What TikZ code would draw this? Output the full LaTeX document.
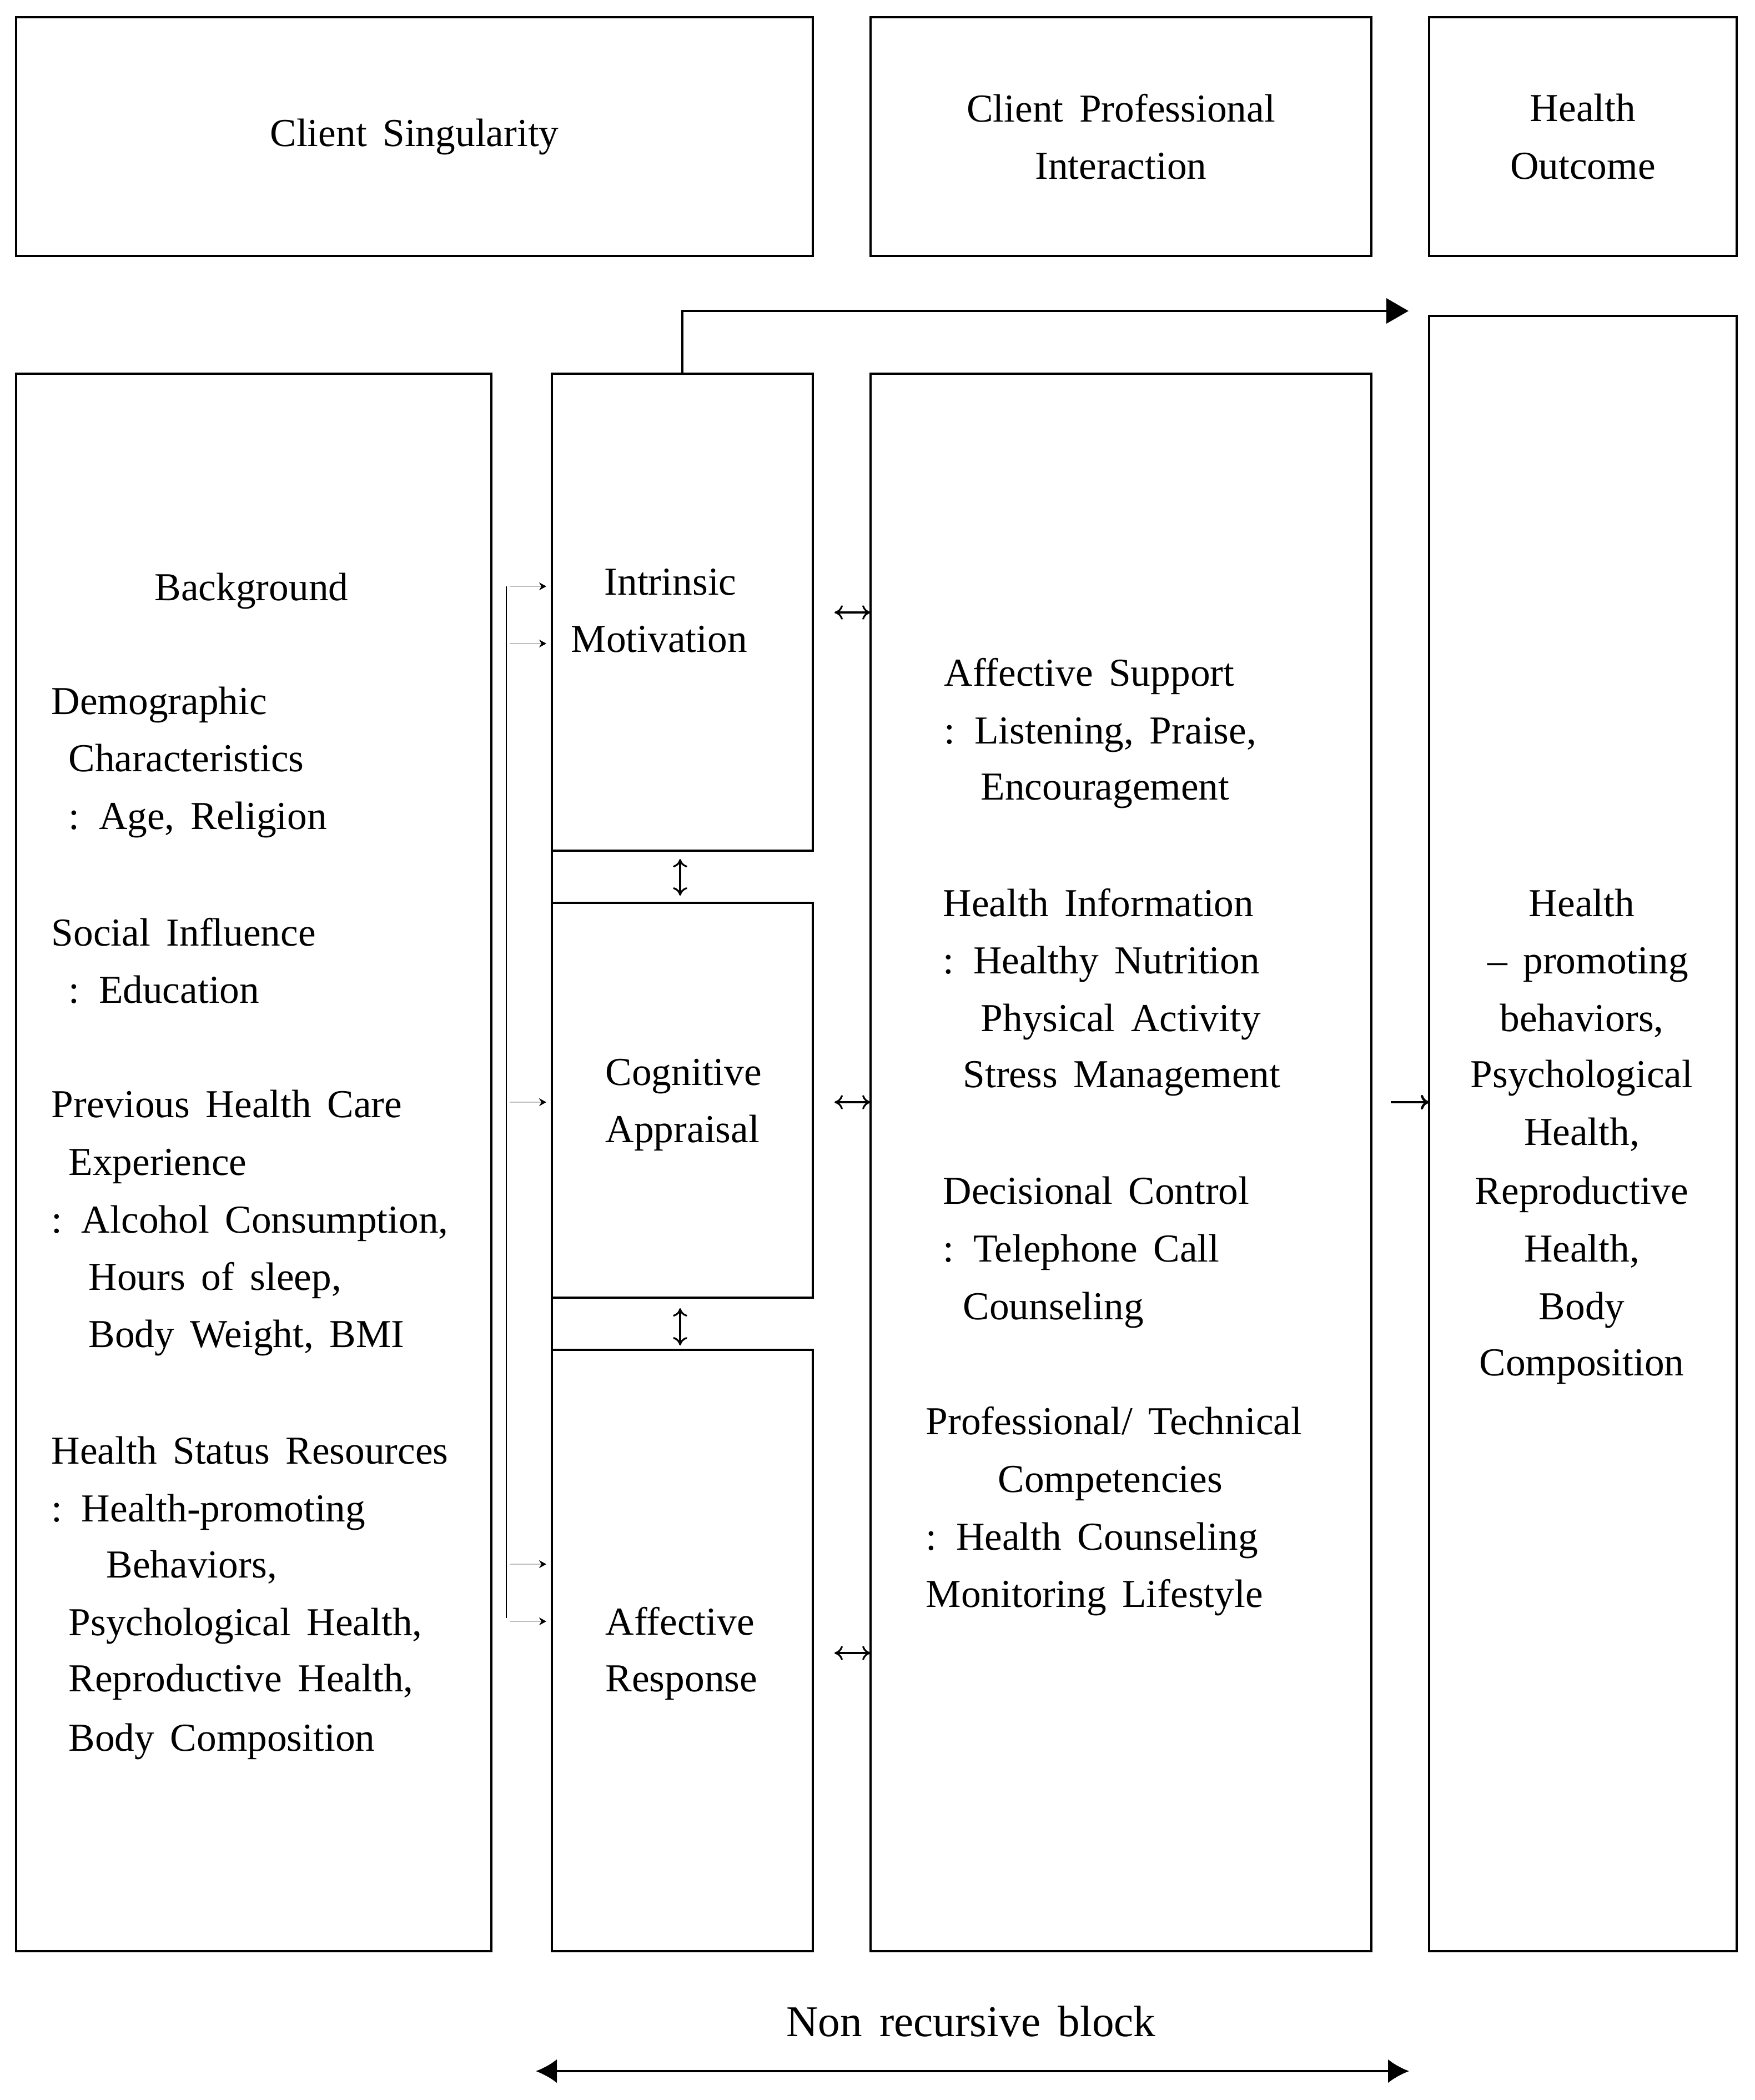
\documentclass[tikz,border=0pt]{standalone}
\usepackage{fontspec}
\setmainfont[WordSpace=1.6]{Liberation Serif}
\usetikzlibrary{arrows.meta}
\tikzset{
  every node/.append style={font=\fontsize{20.3}{29.4}\selectfont},
  box/.style={draw, line width=1pt, rectangle, anchor=north west, inner sep=0pt, outer sep=0pt},
  txt/.style={anchor=west, inner sep=0pt, text height=0.75em, text depth=0.1em, yshift=-1.3mm},
  ctxt/.style={txt, anchor=center},
  link/.style={line width=0.9pt, {To[length=1.5mm,width=2.6mm]}-{To[length=1.5mm,width=2.6mm]}},
  feed/.style={line width=0.6pt, gray!50, -{Stealth[length=1.3mm,width=1.4mm,black]}},
  flow/.style={line width=1.1pt, -{Triangle[length=4mm,width=4.5mm]}},
}
\begin{document}
\begin{tikzpicture}
            \path[fill=white] (0,0) rectangle (31.6,-37.82);
            \useasboundingbox (0,0) rectangle (31.6,-37.82);
            % headings
            \node[box, minimum width=14.35cm, minimum height=4.30cm] (single) at (0.29,-0.31) {Client Singularity};
            \node[box, minimum width=9.02cm, minimum height=4.30cm, align=center] (inter) at (15.68,-0.31) {Client Professional\\Interaction};
            \node[box, minimum width=5.54cm, minimum height=4.30cm, align=center] (outc) at (25.74,-0.31) {Health\\Outcome};
            % blocks
            \node[box, minimum width=8.56cm, minimum height=28.41cm] (backg) at (0.29,-6.73) {};
            \node[box, minimum width=4.70cm, minimum height=8.59cm] (intr) at (9.94,-6.73) {};
            \node[box, minimum width=4.70cm, minimum height=7.11cm] (cogn) at (9.94,-16.26) {};
            \node[box, minimum width=4.70cm, minimum height=10.83cm] (affr) at (9.94,-24.31) {};
            \node[box, minimum width=9.02cm, minimum height=28.41cm] (comp) at (15.68,-6.73) {};
            \node[box, minimum width=5.54cm, minimum height=29.45cm] (hout) at (25.74,-5.69) {};
            \draw[line width=1pt] (intr.north west) -- (affr.south west);
            % background
            \node[ctxt] (bg) at (4.53,-10.57) {Background};
            \foreach \x/\y/\t [count=\i] in {0.92/12.62/Demographic, 1.23/13.65/Characteristics,
                1.23/14.69/{: Age, Religion}, 0.92/16.79/Social Influence, 1.23/17.82/{: Education},
                0.92/19.88/Previous Health Care, 1.23/20.92/Experience, 0.92/21.96/{: Alcohol Consumption,},
                1.59/22.99/{Hours of sleep,}, 1.59/24.02/{Body Weight, BMI}, 0.92/26.12/Health Status Resources,
                0.92/27.16/{: Health-promoting}, 1.91/28.17/{Behaviors,}, 1.23/29.21/{Psychological Health,},
                1.23/30.22/{Reproductive Health,}, 1.23/31.29/Body Composition}
                \node[txt] (bg\i) at (\x,-\y) {\t};
            % appraisal
            \node[txt] (intr1) at (10.88,-10.47) {Intrinsic};
            \node[txt] (intr2) at (10.28,-11.50) {Motivation};
            \node[txt] (cogn1) at (10.90,-19.30) {Cognitive};
            \node[txt] (cogn2) at (10.90,-20.33) {Appraisal};
            \node[txt] (affr1) at (10.90,-29.20) {Affective};
            \node[txt] (affr2) at (10.90,-30.22) {Response};
            % interaction
            \foreach \x/\y/\t [count=\i] in {17.00/12.11/Affective Support, 17.00/13.15/{: Listening, Praise,},
                17.66/14.16/Encouragement, 16.98/16.26/Health Information, 16.98/17.29/{: Healthy Nutrition},
                17.66/18.33/Physical Activity, 17.34/19.34/Stress Management, 16.98/21.44/Decisional Control,
                16.98/22.48/{: Telephone Call}, 17.34/23.52/Counseling, 16.67/25.59/{Professional/ Technical},
                17.97/26.63/Competencies, 16.67/27.67/{: Health Counseling}, 16.67/28.70/Monitoring Lifestyle}
                \node[txt] (cp\i) at (\x,-\y) {\t};
            % outcome
            \foreach \x/\y/\t [count=\i] in {28.49/16.26/Health, 28.60/17.29/{– promoting}, 28.49/18.33/{behaviors,},
                28.49/19.34/Psychological, 28.49/20.38/{Health,}, 28.49/21.44/Reproductive,
                28.49/22.48/{Health,}, 28.49/23.52/Body, 28.49/24.53/Composition}
                \node[ctxt] (ho\i) at (\x,-\y) {\t};
            % arrows
            \coordinate (brt) at (9.12,-10.56);
            \coordinate (brb) at (9.12,-29.14);
            \draw[line width=0.8pt] (brt) -- (brb);
            \foreach \y [count=\i] in {10.56,11.59,19.85,28.17,29.20} {
                \coordinate (fs\i) at (9.18,-\y);
                \draw[feed, shorten >=1mm] (fs\i) -- (fs\i -| intr.west);
            }
            \foreach \y [count=\i] in {11.03,19.85,29.77} {
                \coordinate (lk\i) at (15.03,-\y);
                \draw[link] (lk\i) -- (lk\i -| comp.west);
            }
            \draw[link] ([xshift=-0.4mm,yshift=-1.5mm]intr.south) -- ([xshift=-0.4mm,yshift=1.3mm]cogn.north);
            \draw[link] ([xshift=-0.4mm,yshift=-1.9mm]cogn.south) -- ([xshift=-0.4mm,yshift=0.8mm]affr.north);
            \coordinate (otip) at (25.37,-5.60);
            \draw[flow] (intr.north) |- (otip);
            \coordinate (hin) at (25.05,-19.85);
            \draw[line width=1.2pt, -{To[length=1.5mm,width=2.6mm]}] (hin) -- (hin -| hout.west);
            % non recursive block
            \node[font=\fontsize{22.5}{27}\selectfont, anchor=base] (nrb) at (17.49,-36.67) {Non recursive block};
            \coordinate (nrl) at (9.65,-37.30);
            \coordinate (nrr) at (25.38,-37.30);
            \draw[line width=1.15pt, {Latex[length=3.8mm,width=4.3mm]}-{Latex[length=3.8mm,width=4.3mm]}] (nrl) -- (nrr);
        \end{tikzpicture}
\end{document}
